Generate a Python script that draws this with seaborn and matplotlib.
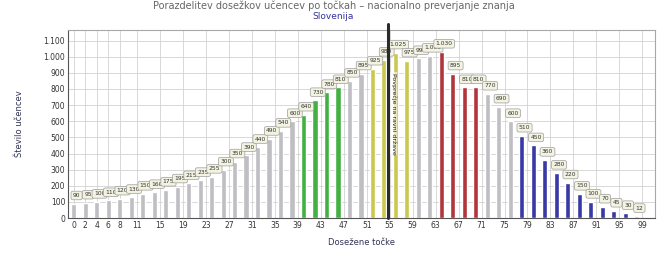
import numpy as np
import pandas as pd
import matplotlib
matplotlib.use('Agg')
import matplotlib.pyplot as plt
import seaborn as sns

# Data (score -> number of pupils)
scores = [0, 2, 4, 6, 8, 10, 12, 14, 16, 18,
          20, 22, 24, 26, 28, 30, 32, 34, 36, 38,
          40, 42, 44, 46, 48, 50, 52, 54, 56, 58,
          60, 62, 64, 66, 68, 70, 72, 74, 76, 78,
          80, 82, 84, 86, 88, 90, 92, 94, 96, 98]
pupils = [90, 95, 100, 110, 120, 130, 150, 160, 175, 195,
          215, 235, 255, 300, 350, 390, 440, 490, 540, 600,
          640, 730, 780, 810, 850, 895, 925, 980, 1025, 975,
          990, 1005, 1030, 895, 810, 810, 770, 690, 600, 510,
          450, 360, 280, 220, 150, 100, 70, 45, 30, 12]
groups = ['ostalo'] * 20 + ['zelena'] * 4 + ['ostalo'] * 2 + ['rumena'] * 4 + \
         ['ostalo'] * 2 + ['rdeca'] * 4 + ['ostalo'] * 3 + ['modra'] * 10 + ['ostalo']
tick_labels = [0, 2, 4, 6, 8, 11, 15, 19, 23, 27, 31, 35, 39, 43, 47, 51, 55,
               59, 63, 67, 71, 75, 79, 83, 87, 91, 95, 99]
y_ticks = [0, 100, 200, 300, 400, 500, 600, 700, 800, 900, 1000, 1100]
average = 54.7

palette = {'ostalo': '#bdbdc4', 'zelena': '#2fc42f', 'rumena': '#e0db3a',
           'rdeca': '#c8202a', 'modra': '#2626b8'}

df = pd.DataFrame({'tocke': scores, 'ucenci': pupils, 'skupina': groups})

def fmt(v):
    return f'{v:,}'.replace(',', '.')

sns.set_style('white')
plt.rcParams['font.family'] = ['DejaVu Sans']

fig = plt.figure(figsize=(6.67, 2.59), dpi=100)
ax = fig.add_axes([0.102, 0.158, 0.880, 0.726])

sns.barplot(data=df, x='tocke', y='ucenci', hue='skupina', palette=palette,
            native_scale=True, width=0.45, dodge=False, legend=False, ax=ax)

# value labels in small boxes
for x, v in zip(scores, pupils):
    ax.annotate(fmt(v), (x, v), xytext=(2, 4), textcoords='offset points',
                fontsize=4.3, color='#333333', ha='center', va='bottom', zorder=4,
                bbox=dict(boxstyle='round,pad=0.3', fc='#f3f3e2', ec='#9c9c9c', lw=0.5))

# national average line, reaching a bit above the frame
ax.plot([average, average], [0, 1200], color='#2b2b2b', lw=2.2, zorder=5, clip_on=False)
ax.text(average + 1.0, 900, 'Povprečje na ravni države', rotation=-90, fontsize=4.5,
        color='#222222', va='top', ha='center', zorder=6,
        bbox=dict(boxstyle='square,pad=0.1', fc='white', ec='none', alpha=0.6))

ax.set_xlim(-1, 101.2)
ax.set_ylim(0, 1165)
ax.set_xticks(tick_labels)
ax.set_xticklabels([str(t) for t in tick_labels], fontsize=5.5, color='#333333')
ax.set_yticks(y_ticks)
ax.set_yticklabels([fmt(t) for t in y_ticks], fontsize=5.5, color='#333333')
ax.tick_params(length=0, pad=2)
ax.grid(True, color='#d2d2d2', lw=0.6)
ax.set_axisbelow(True)
for s in ax.spines.values():
    s.set_color('#a8a8a8')
    s.set_linewidth(0.8)
ax.spines['left'].set_color('#555555')
ax.spines['bottom'].set_color('#555555')

ax.set_xlabel('Dosežene točke', fontsize=6, color='#333355', labelpad=6)
ax.set_ylabel('Število učencev', fontsize=6, color='#333355', labelpad=14)

fig.text(0.5, 0.978, 'Porazdelitev dosežkov učencev po točkah – nacionalno preverjanje znanja',
         ha='center', va='center', fontsize=7, color='#666666')
fig.text(0.5, 0.938, 'Slovenija', ha='center', va='center', fontsize=6.5, color='#333399')

fig.savefig('out.png', dpi=100)
